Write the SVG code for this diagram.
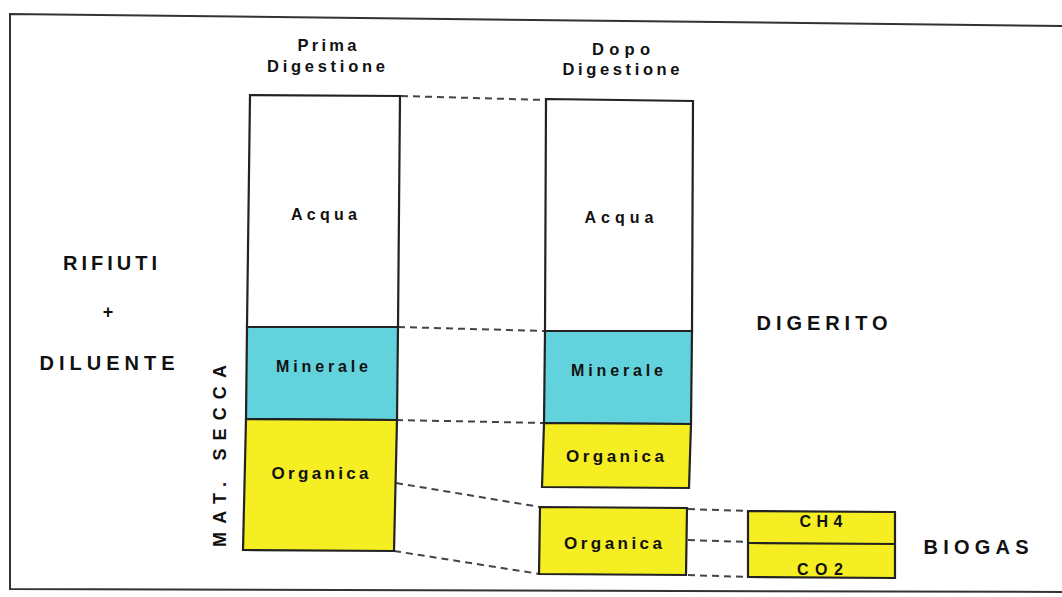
<svg xmlns="http://www.w3.org/2000/svg" width="1062" height="597" viewBox="0 0 1062 597">
<style>
.t{font-family:"Liberation Sans",Arial,sans-serif;font-weight:bold;fill:#111;text-anchor:middle}
.box{stroke:#222;stroke-width:2.2;stroke-linejoin:miter}
.w{fill:#fff}.c{fill:#62d2dc}.y{fill:#f4ee22}
.d{stroke:#444;stroke-width:2;stroke-dasharray:7,5;fill:none}
.frame{stroke:#333;stroke-width:2;fill:none}
</style>
<rect width="1062" height="597" fill="#fff"/>
<g id="frame">
<polyline class="frame" points="1062,26 10,14 10,589 1062,592"/>
</g>
<g id="connectors">
<line class="d" x1="401" y1="96" x2="545" y2="100"/>
<line class="d" x1="398" y1="327" x2="545" y2="331"/>
<line class="d" x1="396" y1="420" x2="543" y2="423"/>
<line class="d" x1="396" y1="483" x2="540" y2="507"/>
<line class="d" x1="394" y1="551" x2="540" y2="574"/>
<line class="d" x1="688" y1="509" x2="748" y2="511"/>
<line class="d" x1="688" y1="540" x2="748" y2="542"/>
<line class="d" x1="688" y1="575" x2="748" y2="577"/>
</g>
<g id="titles">
<text class="t" x="327" y="51" font-size="16.5" textLength="59" lengthAdjust="spacing">Prima</text>
<text class="t" x="326" y="72" font-size="16.5" textLength="118" lengthAdjust="spacing">Digestione</text>
<text class="t" x="621" y="55" font-size="16.5" textLength="58" lengthAdjust="spacing">Dopo</text>
<text class="t" x="621" y="75" font-size="16.5" textLength="117" lengthAdjust="spacing">Digestione</text>
</g>
<g id="before">
<polygon class="box w" points="250,95 400,96 398,327 247,327"/>
<polygon class="box c" points="247,327 398,327 397,420 246,419"/>
<polygon class="box y" points="246,419 397,420 394,551 243,550"/>
<text class="t" x="324" y="220" font-size="16" textLength="66" lengthAdjust="spacing">Acqua</text>
<text class="t" x="322" y="372" font-size="16" textLength="92" lengthAdjust="spacing">Minerale</text>
<text class="t" x="320" y="479" font-size="17" textLength="97" lengthAdjust="spacing">Organica</text>
</g>
<g id="after">
<polygon class="box w" points="546,99 693,101 692,331 545,331"/>
<polygon class="box c" points="545,331 692,331 691,424 544,423"/>
<polygon class="box y" points="544,423 691,424 689,488 542,487"/>
<text class="t" x="619" y="223" font-size="16" textLength="69" lengthAdjust="spacing">Acqua</text>
<text class="t" x="617" y="376" font-size="16" textLength="92" lengthAdjust="spacing">Minerale</text>
<text class="t" x="615" y="462" font-size="17" textLength="98" lengthAdjust="spacing">Organica</text>
</g>
<g id="lost">
<polygon class="box y" points="540,507 687,508 686,575 539,574"/>
<text class="t" x="613" y="549" font-size="17" textLength="98" lengthAdjust="spacing">Organica</text>
</g>
<g id="biogas">
<polygon class="box y" points="748,511 895,512 895,578 748,577"/>
<line class="box" x1="748" y1="543" x2="895" y2="544"/>
<text class="t" x="821" y="527" font-size="16" textLength="43" lengthAdjust="spacing">CH4</text>
<text class="t" x="820" y="575" font-size="16" textLength="46" lengthAdjust="spacing">CO2</text>
</g>
<g id="labels">
<text class="t" x="110" y="270" font-size="20" textLength="94" lengthAdjust="spacing">RIFIUTI</text>
<text class="t" x="108" y="318" font-size="18">+</text>
<text class="t" x="107" y="370" font-size="20" textLength="135" lengthAdjust="spacing">DILUENTE</text>
<text class="t" x="822" y="330" font-size="20" textLength="131" lengthAdjust="spacing">DIGERITO</text>
<text class="t" x="976" y="554" font-size="20" textLength="105" lengthAdjust="spacing">BIOGAS</text>
<text class="t" transform="translate(226,456) rotate(-90)" x="0" y="0" font-size="18" textLength="182" lengthAdjust="spacing">MAT. SECCA</text>
</g>
</svg>
